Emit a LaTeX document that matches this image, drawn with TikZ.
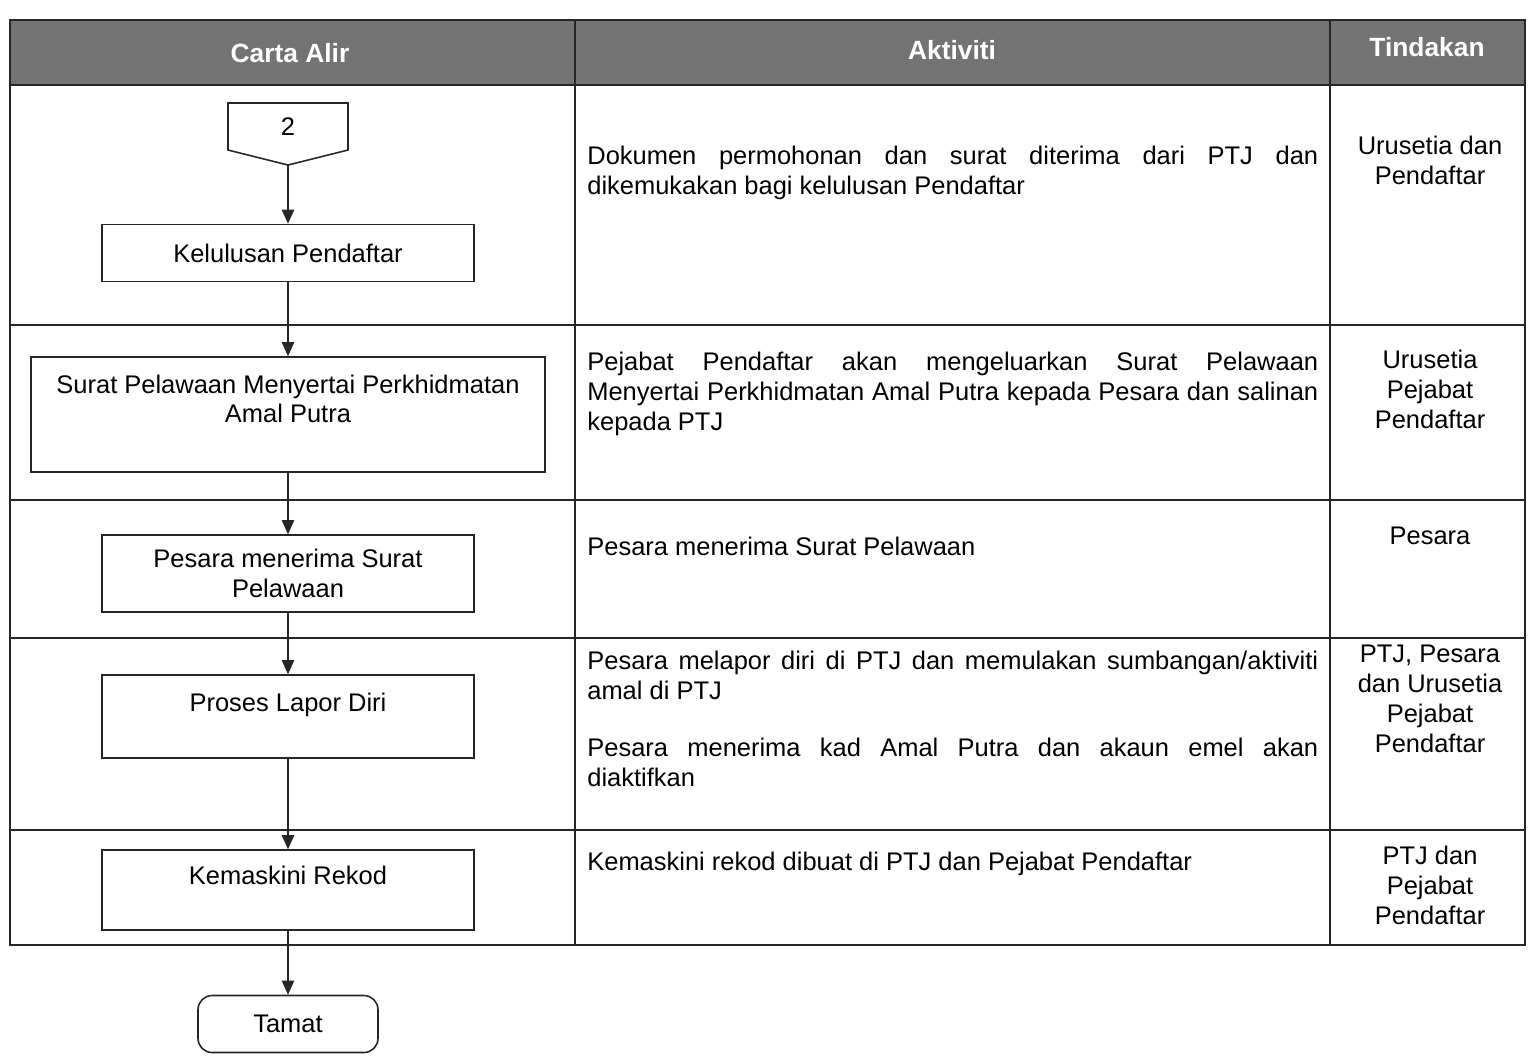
\documentclass[tikz,border=0pt]{standalone}
\usepackage{fontspec}
\setmainfont{Liberation Sans}
\usepackage{xcolor}
\usetikzlibrary{positioning,arrows.meta}

\newcommand{\flowfont}{\fontsize{14.5}{17}\selectfont}

\tikzset{
  gridline/.style={draw=black!85, line width=1pt},
  headtext/.style={text=white, font=\bfseries\fontsize{15}{18}\selectfont},
  procbox/.style={rectangle, draw=black!85, line width=0.9pt,
                  minimum width=7.44cm, minimum height=1.14cm,
                  inner sep=0pt, align=center, font=\flowfont},
  boxtext/.style={align=center, inner sep=0pt, font=\flowfont},
  acttext/.style={text width=14.62cm, align=justify, inner sep=0pt,
                  anchor=north west, font=\flowfont},
  whotext/.style={align=center, inner sep=0pt, anchor=north, font=\flowfont},
  flowarrow/.style={draw=black!85, line width=0.9pt,
                    -{Triangle[length=8pt,width=7pt]}}
}

\begin{document}
\begin{tikzpicture}[x=0.02cm, y=0.02cm]
\useasboundingbox (0,0) rectangle (1533,-1056);
\fill[white] (0,0) rectangle (1533,-1056);

\fill[black!55] (10,-20) rectangle (1525,-85);
\draw[gridline] (10,-20) rectangle (1525,-945);
\draw[gridline] (10,-85) -- (1525,-85);
\draw[gridline] (10,-325) -- (1525,-325);
\draw[gridline] (10,-500) -- (1525,-500);
\draw[gridline] (10,-638) -- (1525,-638);
\draw[gridline] (10,-830) -- (1525,-830);
\draw[gridline] (575,-20) -- (575,-945);
\draw[gridline] (1330,-20) -- (1330,-945);

\node[headtext] (hdrflow) at (290,-53) {Carta Alir};
\node[headtext] (hdract) at (952,-50) {Aktiviti};
\node[headtext] (hdrwho) at (1427,-47) {Tindakan};

\draw[gridline, line width=0.9pt] (228,-103) -- (348,-103) -- (348,-150)
  -- (288,-165) -- (228,-150) -- cycle;
\node[boxtext] (con2) at (288,-127) {2};
\coordinate (con2tip) at (288,-165);

\node[procbox] (kelulusan) at (288,-253) {Kelulusan Pendaftar};

\node[procbox, minimum width=10.28cm, minimum height=2.3cm] (surat) at (288,-414.5) {};
\node[boxtext, below=0.36cm of surat.north] (surattext)
{Surat Pelawaan Menyertai Perkhidmatan\\Amal Putra};

\node[procbox, minimum height=1.54cm] (pesara) at (288,-573.5)
{Pesara menerima Surat\\Pelawaan};

\node[procbox, minimum height=1.66cm] (lapor) at (288,-716.5) {};
\node[boxtext, below=0.36cm of lapor.north] (laportext) {Proses Lapor Diri};

\node[procbox, minimum height=1.6cm] (kemaskini) at (288,-890) {};
\node[boxtext, below=0.32cm of kemaskini.north] (kemaskinitext) {Kemaskini Rekod};

\node[procbox, minimum width=3.6cm, minimum height=1.14cm,
      rounded corners=8pt] (tamat) at (288,-1024) {Tamat};

\draw[flowarrow] (con2tip) -- (kelulusan);
\draw[flowarrow] (kelulusan) -- (surat);
\draw[flowarrow] (surat) -- (pesara);
\draw[flowarrow] (pesara) -- (lapor);
\draw[flowarrow] (lapor) -- (kemaskini);
\draw[flowarrow] (kemaskini) -- (tamat);

\node[acttext] (act1) at (587,-146)
{Dokumen permohonan dan surat diterima dari PTJ dan\linebreak
dikemukakan bagi kelulusan Pendaftar};
\node[acttext] (act2) at (587,-352)
{Pejabat Pendaftar akan mengeluarkan Surat Pelawaan\linebreak
Menyertai Perkhidmatan Amal Putra kepada Pesara dan salinan\linebreak
kepada PTJ};
\node[acttext] (act3) at (587,-537) {Pesara menerima Surat Pelawaan};
\node[acttext] (act4a) at (587,-651)
{Pesara melapor diri di PTJ dan memulakan sumbangan/aktiviti\linebreak
amal di PTJ};
\node[acttext] (act4b) at (587,-738)
{Pesara menerima kad Amal Putra dan akaun emel akan\linebreak
diaktifkan};
\node[acttext] (act5) at (587,-852) {Kemaskini rekod dibuat di PTJ dan Pejabat Pendaftar};

\node[whotext] (who1) at (1430,-136) {Urusetia dan\\Pendaftar};
\node[whotext] (who2) at (1430,-350) {Urusetia\\Pejabat\\Pendaftar};
\node[whotext] (who3) at (1430,-527) {Pesara};
\node[whotext] (who4) at (1430,-645) {PTJ, Pesara\\dan Urusetia\\Pejabat\\Pendaftar};
\node[whotext] (who5) at (1430,-846) {PTJ dan\\Pejabat\\Pendaftar};
\end{tikzpicture}
\end{document}
